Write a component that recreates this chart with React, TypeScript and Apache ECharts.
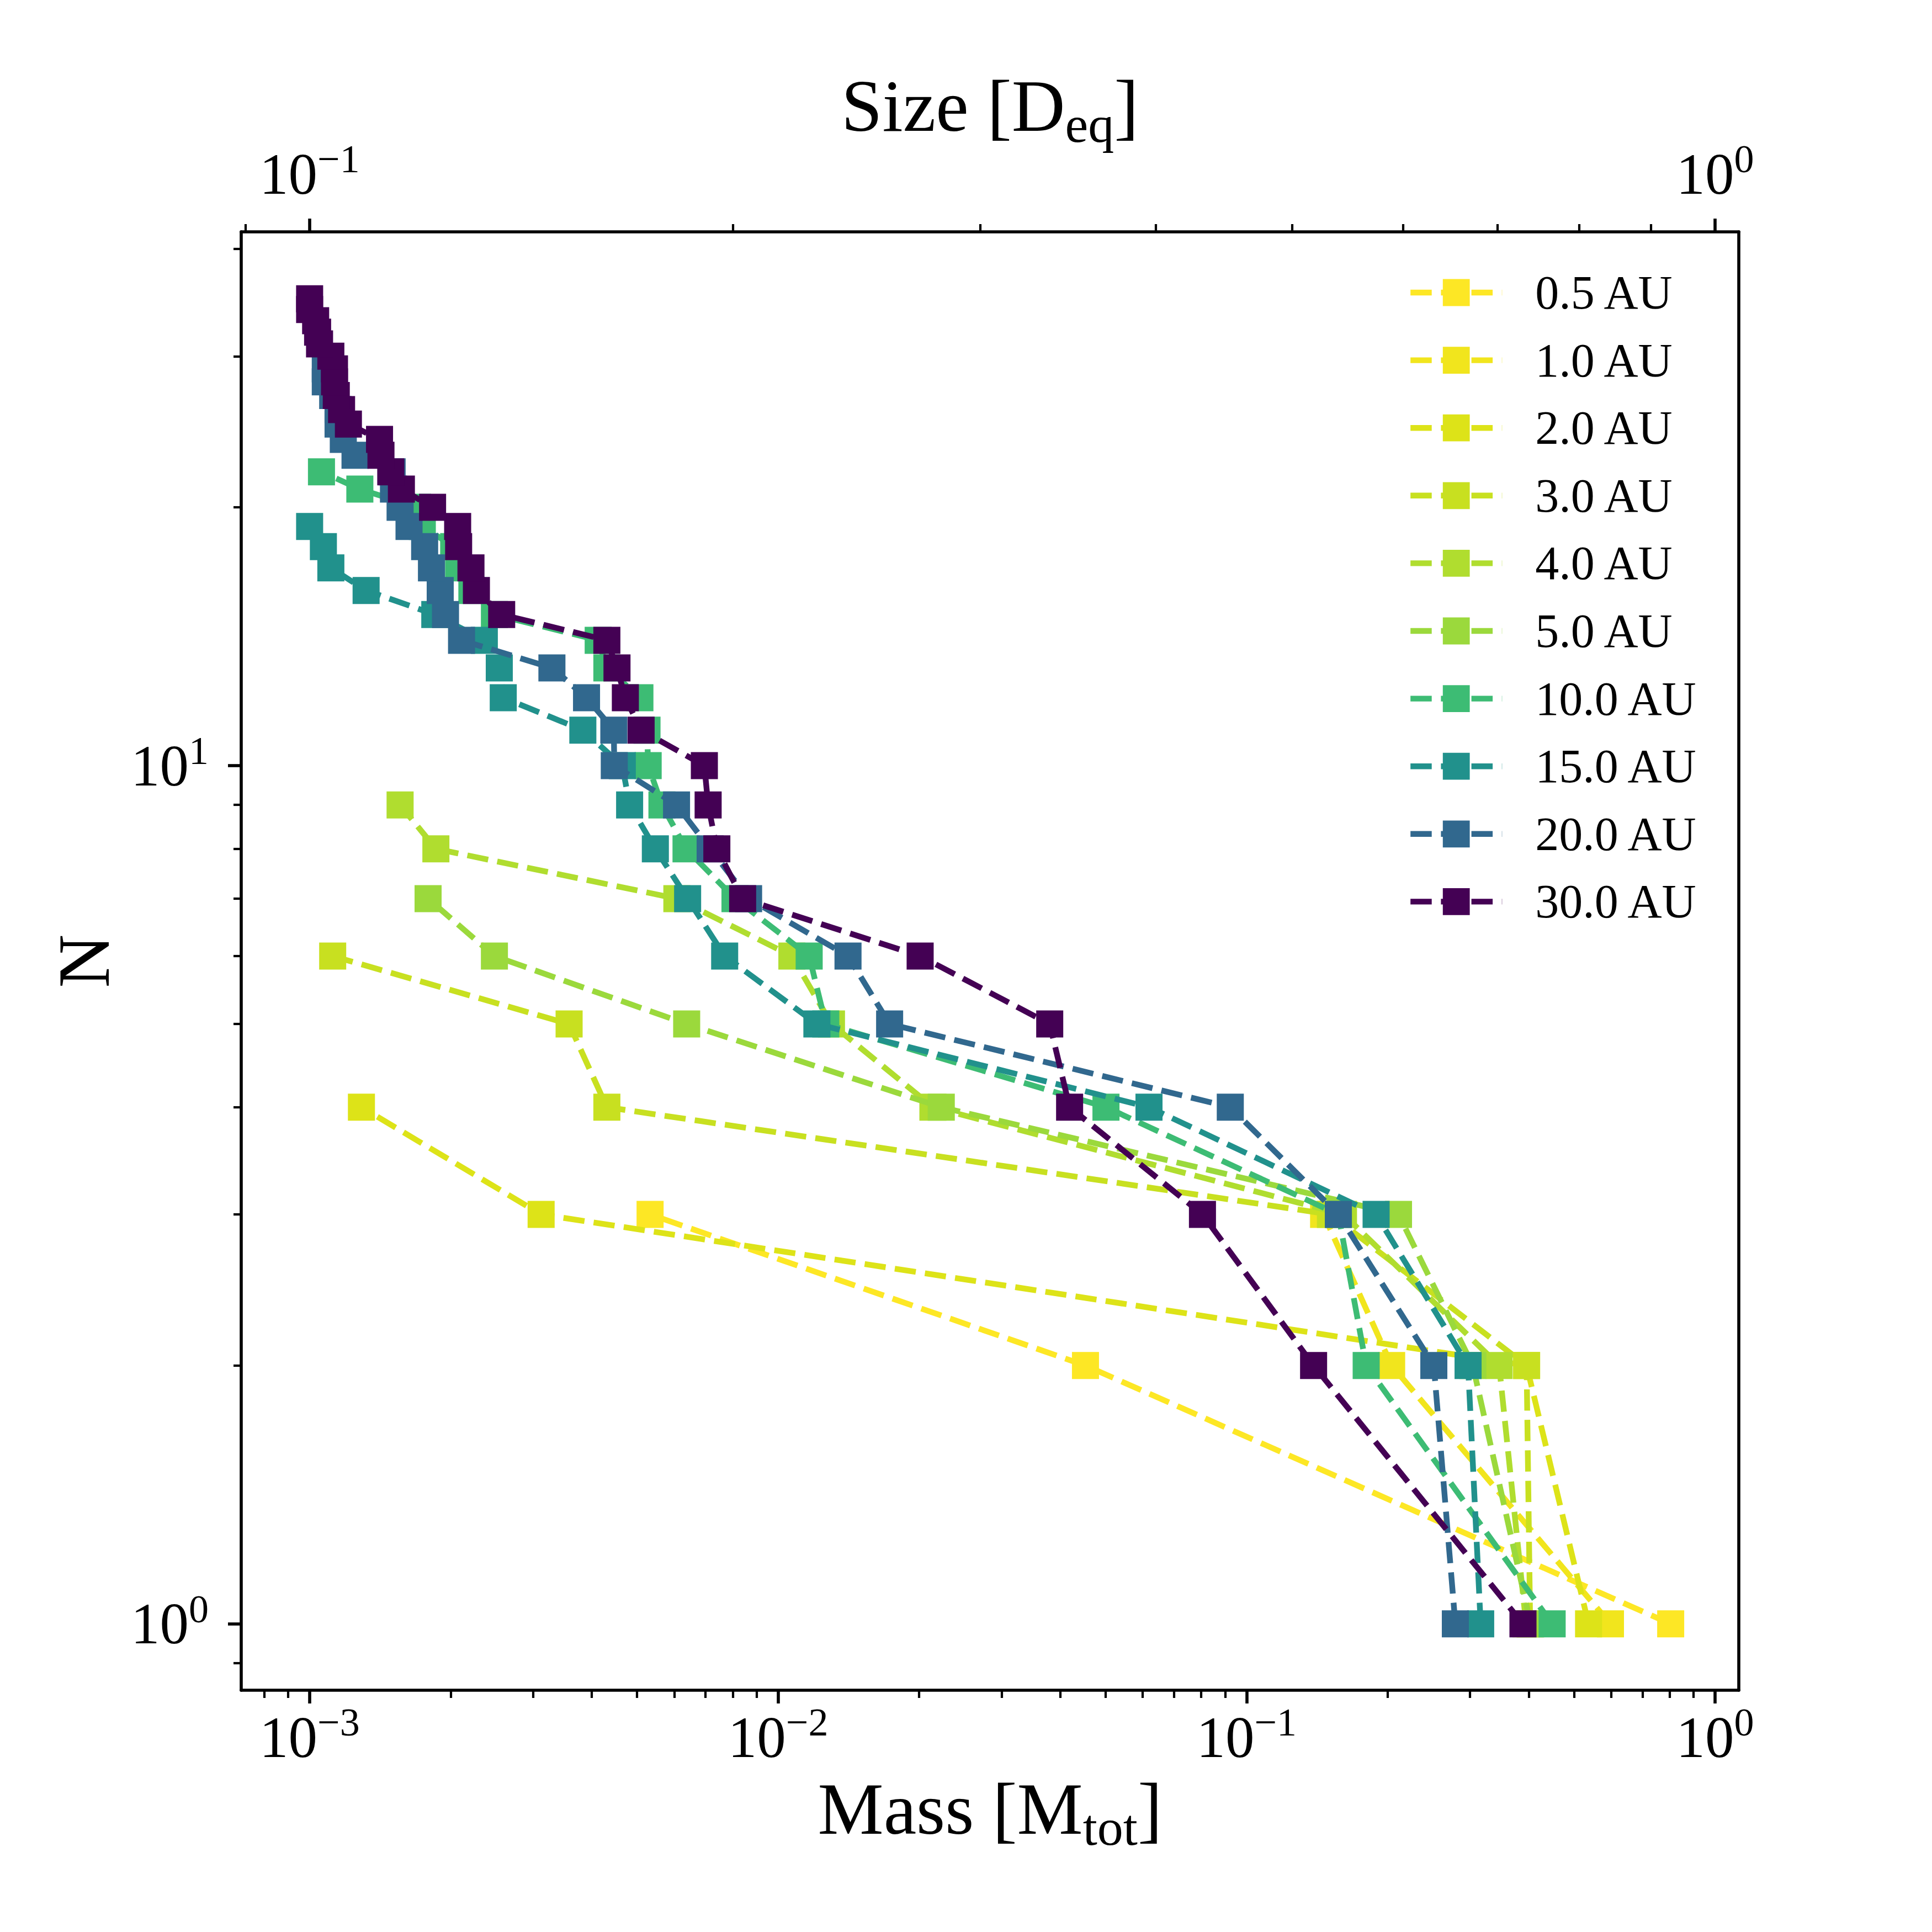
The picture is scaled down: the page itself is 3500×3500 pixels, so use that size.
import React, { useEffect, useRef } from "react";
import * as echarts from "echarts";

const FONT = "'Liberation Serif', 'DejaVu Serif', serif";

// Legend labels (orbital distance) and colours
const distanceLabels = ["0.5 AU", "1.0 AU", "2.0 AU", "3.0 AU", "4.0 AU", "5.0 AU", "10.0 AU", "15.0 AU", "20.0 AU", "30.0 AU"];
const seriesColors = ["#fde725", "#f1e51d", "#dde318", "#c8e020", "#b0dd2f", "#9bd93c", "#3dbc74", "#21918c", "#31688e", "#440154"];

// Mass [M_tot] of the N-th most massive body; index 0 -> N = 1, index 1 -> N = 2, ...
const mass05 = [0.804, 0.0453, 0.00533];
const mass10 = [0.598, 0.204, 0.146];
const mass20 = [0.537, 0.396, 0.00312, 0.00129];
const mass30 = [0.403, 0.396, 0.151, 0.00431, 0.00358, 0.00112];
const mass40 = [0.395, 0.346, 0.161, 0.0214, 0.013, 0.0107, 0.00608, 0.00186, 0.00156];
const mass50 = [0.404, 0.304, 0.211, 0.0223, 0.00638, 0.00248, 0.00179];
const mass100 = [0.449, 0.18, 0.157, 0.0501, 0.01264, 0.01165, 0.00809, 0.00636, 0.00565, 0.00528, 0.00525, 0.00507, 0.00431, 0.00413, 0.00248, 0.00222, 0.00208, 0.00203, 0.00174, 0.0017, 0.00128, 0.00106];
const mass150 = [0.316, 0.297, 0.189, 0.0619, 0.0121, 0.00769, 0.00641, 0.00547, 0.00482, 0.00465, 0.00383, 0.00259, 0.00254, 0.00236, 0.00185, 0.00132, 0.00111, 0.00107, 0.001];
const mass200 = [0.279, 0.251, 0.157, 0.0923, 0.0173, 0.0141, 0.00865, 0.00716, 0.00607, 0.00447, 0.00446, 0.0039, 0.00329, 0.00211, 0.00195, 0.0019, 0.00182, 0.00176, 0.00163, 0.00156, 0.00151, 0.0015, 0.00125, 0.00118, 0.00115, 0.00115, 0.00112, 0.00108, 0.00108];
const mass300 = [0.389, 0.139, 0.0805, 0.0419, 0.038, 0.0201, 0.0084, 0.0074, 0.00709, 0.00696, 0.0051, 0.00472, 0.00453, 0.00431, 0.00257, 0.00227, 0.00221, 0.00208, 0.00207, 0.00183, 0.00157, 0.00149, 0.00142, 0.00141, 0.00121, 0.00117, 0.00114, 0.00113, 0.00113, 0.00111, 0.00105, 0.00104, 0.00103, 0.001, 0.001];

const massSeries = [mass05, mass10, mass20, mass30, mass40, mass50, mass100, mass150, mass200, mass300];

// Axis ranges and ticks
const massRange = [7.145e-4, 1.1237];
const countRange = [0.837, 41.88];
const massTicksMajor = [0.001, 0.01, 0.1, 1];
const massTicksMinor = [0.0008, 0.0009, 0.002, 0.003, 0.004, 0.005, 0.006, 0.007, 0.008, 0.009, 0.02, 0.03, 0.04, 0.05, 0.06, 0.07, 0.08, 0.09, 0.2, 0.3, 0.4, 0.5, 0.6, 0.7, 0.8, 0.9];
const sizeTicksMajor = [0.1, 1];
const sizeTicksMinor = [0.09, 0.2, 0.3, 0.4, 0.5, 0.6, 0.7, 0.8, 0.9];
const countTicksMajor = [1, 10];
const countTicksMinor = [0.9, 2, 3, 4, 5, 6, 7, 8, 9, 20, 30, 40];

const L = (v: number) => Math.log10(v);

const pow10Label = (v: number) => {
  const e = Math.round(v);
  return `{a|10}{b|${e < 0 ? "\u2212" : ""}${Math.abs(e)}}`;
};

const labelRich = {
  a: { fontFamily: FONT, fontSize: 105, lineHeight: 126, color: "#000" },
  b: { fontFamily: FONT, fontSize: 72, lineHeight: 77, verticalAlign: "top", color: "#000" },
};
const nameRich = {
  a: { fontFamily: FONT, fontSize: 134, lineHeight: 160, color: "#000" },
  b: { fontFamily: FONT, fontSize: 94, lineHeight: 92, verticalAlign: "bottom", color: "#000" },
};

const axisLineStyle = { color: "#000", width: 5.6 };
const majorTick = (vals: number[]) => ({
  show: true,
  inside: false,
  length: 24,
  lineStyle: { color: "#000", width: 5.6 },
  customValues: vals.map(L),
});
const minorTick = (vals: number[]) => ({
  show: true,
  inside: false,
  length: 14,
  lineStyle: { color: "#000", width: 4.2 },
  customValues: vals.map(L),
});

function buildOption() {
  const xMin = L(massRange[0]);
  const xMax = L(massRange[1]);
  const yMin = L(countRange[0]);
  const yMax = L(countRange[1]);
  const dash = [38.5, 16.7];

  return {
    animation: false,
    backgroundColor: "#ffffff",
    textStyle: { fontFamily: FONT },
    grid: { left: 437, right: 350, top: 420, bottom: 438, containLabel: false },
    legend: {
      show: true,
      orient: "vertical",
      left: 2550,
      top: 487,
      padding: 0,
      itemWidth: 166,
      itemHeight: 61,
      itemGap: 36.6,
      selectedMode: false,
      data: distanceLabels,
      lineStyle: { width: 10.4, type: dash },
      textStyle: { fontFamily: FONT, fontSize: 86, color: "#000", padding: [0, 0, 0, 55] },
    },
    xAxis: [
      {
        type: "value",
        position: "bottom",
        min: xMin,
        max: xMax,
        axisLine: { show: true, onZero: false, lineStyle: axisLineStyle },
        axisTick: majorTick(massTicksMajor),
        axisLabel: { show: true, customValues: massTicksMajor.map(L), formatter: pow10Label, margin: 22, rich: labelRich },
        splitLine: { show: false },
        name: "{a|Mass [M}{b|tot}{a|]}",
        nameLocation: "middle",
        nameGap: 135,
        nameMoveOverlap: false,
        nameTextStyle: { rich: nameRich },
      },
      {
        type: "value",
        position: "bottom",
        min: xMin,
        max: xMax,
        axisLine: { show: false, onZero: false },
        axisTick: minorTick(massTicksMinor),
        axisLabel: { show: false },
        splitLine: { show: false },
      },
      {
        type: "value",
        position: "top",
        min: xMin / 3,
        max: xMax / 3,
        axisLine: { show: true, onZero: false, lineStyle: axisLineStyle },
        axisTick: majorTick(sizeTicksMajor),
        axisLabel: { show: true, customValues: sizeTicksMajor.map(L), formatter: pow10Label, margin: 42, rich: labelRich },
        splitLine: { show: false },
        name: "{a|Size [D}{b|eq}{a|]}",
        nameLocation: "middle",
        nameGap: 148,
        nameMoveOverlap: false,
        nameTextStyle: { rich: nameRich },
      },
      {
        type: "value",
        position: "top",
        min: xMin / 3,
        max: xMax / 3,
        axisLine: { show: false, onZero: false },
        axisTick: minorTick(sizeTicksMinor),
        axisLabel: { show: false },
        splitLine: { show: false },
      },
    ],
    yAxis: [
      {
        type: "value",
        position: "left",
        min: yMin,
        max: yMax,
        axisLine: { show: true, onZero: false, lineStyle: axisLineStyle },
        axisTick: majorTick(countTicksMajor),
        axisLabel: { show: true, customValues: countTicksMajor.map(L), formatter: pow10Label, margin: 59, rich: labelRich },
        splitLine: { show: false },
        name: "N",
        nameLocation: "middle",
        nameGap: 205,
        nameMoveOverlap: false,
        nameTextStyle: { fontFamily: FONT, fontSize: 134, lineHeight: 160, color: "#000" },
      },
      {
        type: "value",
        position: "left",
        min: yMin,
        max: yMax,
        axisLine: { show: false, onZero: false },
        axisTick: minorTick(countTicksMinor),
        axisLabel: { show: false },
        splitLine: { show: false },
      },
      {
        type: "value",
        position: "right",
        min: yMin,
        max: yMax,
        axisLine: { show: true, onZero: false, lineStyle: axisLineStyle },
        axisTick: { show: false },
        axisLabel: { show: false },
        splitLine: { show: false },
      },
    ],
    series: massSeries.map((masses, i) => ({
      name: distanceLabels[i],
      type: "line",
      xAxisIndex: 0,
      yAxisIndex: 0,
      data: masses.map((m, k) => [L(m), L(k + 1)]),
      symbol: "rect",
      symbolSize: 49,
      showAllSymbol: true,
      itemStyle: { color: seriesColors[i] },
      lineStyle: { color: seriesColors[i], width: 10.4, type: dash, cap: "butt" },
      z: 10 + i,
      silent: true,
      emphasis: { disabled: true },
    })),
  };
}

export default function App() {
  const ref = useRef<HTMLDivElement>(null);
  useEffect(() => {
    if (!ref.current) return;
    const chart = echarts.init(ref.current, null, { renderer: "svg" });
    chart.setOption(buildOption() as any);
    return () => chart.dispose();
  }, []);
  return (
    <div
      ref={ref}
      style={{ position: "absolute", left: 0, top: 0, width: 3500, height: 3500, background: "#fff" }}
    />
  );
}
